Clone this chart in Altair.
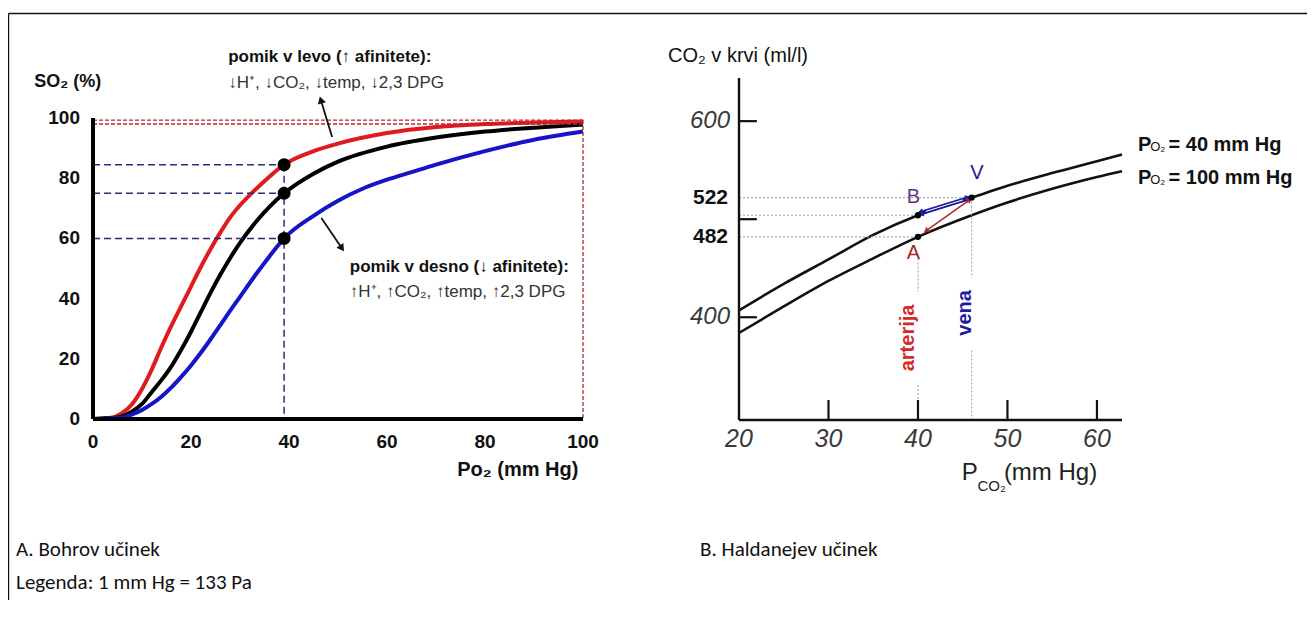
import math
import altair as alt
import pandas as pd

# ---------------- Panel A: Bohr effect ----------------
red_po2 = [0, 4, 6, 8, 10, 12, 14, 16, 18, 20, 22, 24, 26, 28, 30, 33, 36, 39, 45, 50, 60, 70, 80, 90, 100]
red_so2 = [0, 0.5, 2, 5, 10, 16.5, 24, 31, 37.5, 44, 50.5, 56.5, 62, 67, 71, 76, 80.5, 84.5, 89, 91.5, 95, 97, 98, 98.5, 98.8]
black_po2 = [0, 5, 8, 10, 12, 14, 16, 18, 20, 22, 24, 26, 28, 30, 33, 36, 39, 45, 50, 60, 70, 80, 90, 100]
black_so2 = [0, 0.5, 2.5, 5, 9, 13, 17.5, 23, 29, 35.5, 42, 48, 53.5, 58.5, 65, 70.5, 75, 81.5, 85.5, 90.5, 93.5, 95.5, 96.8, 97.8]
blue_po2 = [0, 6, 8, 10, 12, 14, 16, 18, 20, 22, 24, 26, 28, 30, 33, 36, 39, 45, 50, 55, 60, 65, 70, 80, 90, 100]
blue_so2 = [0, 0.5, 1.5, 3, 5, 7.5, 10.5, 14, 17.8, 22, 26.5, 31.2, 36, 40.6, 47.5, 54, 60, 67.5, 72.5, 76.5, 79.5, 82, 84.5, 89, 92.8, 95.5]
marker_po2 = [39, 39, 39]
marker_so2 = [84.5, 75, 60]
saturation_ref = [99.3, 98.0]
left_ticks = [0, 20, 40, 60, 80, 100]
left_up_arrow = [(48.8, 93.7), (46.5, 106)]
left_down_arrow = [(46.6, 66.8), (50.8, 56.7)]

# ---------------- Panel B: Haldane effect ----------------
pco2 = [20, 25, 30, 35, 40, 46, 50, 55, 60, 62.8]
co2_po2_40 = [407, 434, 459, 484, 504, 522, 534, 547, 559, 566]
co2_po2_100 = [384, 411, 437, 460, 482, 504, 517, 531, 543, 549]
pt_names = ["A", "B", "V"]
pt_pco2 = [40, 40, 46]
pt_co2 = [482, 504, 522]
right_x_ticks = [20, 30, 40, 50, 60]
right_y_ticks = [400, 500, 600]
right_y_labels = [400, 600]
right_bold_labels = [482, 522]

W, H = 1299, 592
LX = dict(domain=[0, 100], range=[85, 575])
LY = dict(domain=[0, 100], range=[411, 110])
RX = dict(domain=[20, 62.8], range=[731, 1114])
RY = dict(domain=[295.2, 644], range=[412, 70])
PAN = {"L": (LX, LY), "R": (RX, RY)}


def pix(s, v):
    d0, d1 = s["domain"]
    r0, r1 = s["range"]
    return r0 + (v - d0) * (r1 - r0) / (d1 - d0)


def heading(panel, p0, p1):
    sx, sy = PAN[panel]
    dx = pix(sx, p1[0]) - pix(sx, p0[0])
    dy = pix(sy, p1[1]) - pix(sy, p0[1])
    return math.degrees(math.atan2(dx, -dy)) % 360


def sc(s):
    return alt.Scale(domain=s["domain"], range=s["range"], zero=False, nice=False)


def base(df, panel, x="x", y="y", x2=None, y2=None):
    sx, sy = PAN[panel]
    e = dict(x=alt.X(f"{x}:Q", scale=sc(sx), axis=None),
             y=alt.Y(f"{y}:Q", scale=sc(sy), axis=None))
    if x2:
        e["x2"] = alt.X2(f"{x2}:Q")
    if y2:
        e["y2"] = alt.Y2(f"{y2}:Q")
    return alt.Chart(pd.DataFrame(df)), e


def text(panel, rows, **mk):
    df = pd.DataFrame(rows, columns=["x", "y", "t"])
    c, e = base(df, panel)
    return c.mark_text(**mk).encode(**e, text="t:N")


def seg(panel, rows, **mk):
    df = pd.DataFrame(rows, columns=["x", "y", "x2", "y2"])
    c, e = base(df, panel, x2="x2", y2="y2")
    return c.mark_rule(**mk).encode(**e)


def heads(panel, rows, **mk):
    df = pd.DataFrame(rows, columns=["x", "y", "a"])
    c, e = base(df, panel)
    return c.mark_point(shape="triangle-up", filled=True, opacity=1, **mk).encode(
        **e, angle=alt.Angle("a:Q", scale=None))


SANS = "Liberation Sans"
NARROW = "Liberation Sans Narrow, Arial Narrow, Liberation Sans"
layers = []

# ---- Panel A ----
curves = pd.DataFrame(
    [("red", a, b) for a, b in zip(red_po2, red_so2)]
    + [("black", a, b) for a, b in zip(black_po2, black_so2)]
    + [("blue", a, b) for a, b in zip(blue_po2, blue_so2)],
    columns=["s", "x", "y"])
c, e = base(curves, "L")
layers.append(c.mark_line(strokeWidth=4, interpolate="monotone").encode(
    **e, color=alt.Color("s:N", scale=alt.Scale(domain=["red", "black", "blue"],
                                                range=["#e01a1f", "#000000", "#1515c8"]), legend=None)))

layers.append(seg("L", [(0, v, 100, v) for v in saturation_ref],
                  color="#b5292e", strokeWidth=1.3, strokeDash=[4, 2]))
layers.append(seg("L", [(100, saturation_ref[0], 100, 0)],
                  color="#b5292e", strokeWidth=1.3, strokeDash=[4, 2]))
layers.append(seg("L", [(0, v, x, v) for x, v in zip(marker_po2, marker_so2)]
                  + [(marker_po2[0], max(marker_so2), marker_po2[0], 0)],
                  color="#2b2b7c", strokeWidth=1.5, strokeDash=[7, 4]))

c, e = base({"x": marker_po2, "y": marker_so2}, "L")
layers.append(c.mark_point(filled=True, color="black", opacity=1, size=170).encode(**e))

layers.append(seg("L", [(0, 0, 100, 0), (0, 0, 0, 100)], color="black", strokeWidth=4))

layers.append(text("L", [(0, v, str(v)) for v in left_ticks], align="right", baseline="middle",
                   dx=-13, font=SANS, fontWeight="bold", fontSize=19, color="#111"))
layers.append(text("L", [(v, 0, str(v)) for v in left_ticks], align="center", baseline="middle",
                   dy=23, font=SANS, fontWeight="bold", fontSize=19, color="#111"))
layers.append(text("L", [(-12, 112, "SO₂ (%)")], align="left", baseline="middle",
                   font=NARROW, fontWeight="bold", fontSize=18, color="#111"))
layers.append(text("L", [(86.7, -16.9, "Po₂ (mm Hg)")], align="center", baseline="middle",
                   font=NARROW, fontWeight="bold", fontSize=20, color="#111"))
layers.append(text("L", [(27.6, 120.3, "pomik v levo (↑ afinitete):"),
                         (52.4, 50.6, "pomik v desno (↓ afinitete):")],
                   align="left", baseline="middle", font=NARROW, fontWeight="bold",
                   fontSize=17, color="#111"))
layers.append(text("L", [(27.6, 111.6, "↓H⁺, ↓CO₂, ↓temp, ↓2,3 DPG"),
                         (52.4, 42.3, "↑H⁺, ↑CO₂, ↑temp, ↑2,3 DPG")],
                   align="left", baseline="middle", font=NARROW, fontSize=17, color="#333"))
for p0, p1 in (left_up_arrow, left_down_arrow):
    layers.append(seg("L", [(p0[0], p0[1], p1[0], p1[1])], color="#111", strokeWidth=1.8))
    layers.append(heads("L", [(p1[0], p1[1], heading("L", p0, p1))], color="#111", size=70))

# ---- Panel B ----
hc = pd.DataFrame([("40", a, b) for a, b in zip(pco2, co2_po2_40)]
                  + [("100", a, b) for a, b in zip(pco2, co2_po2_100)], columns=["s", "x", "y"])
c, e = base(hc, "R")
layers.append(c.mark_line(strokeWidth=2.6, color="#111", interpolate="monotone").encode(
    **e, detail="s:N"))

A, B, V = list(zip(pt_pco2, pt_co2))
guides = [(20, V[1], V[0], V[1]), (20, B[1], B[0], B[1]), (20, A[1], A[0], A[1]),
          (A[0], 460, A[0], 426), (A[0], 331, A[0], 295.2),
          (V[0], V[1], V[0], 440), (V[0], 366, V[0], 295.2)]
layers.append(seg("R", guides, color="#a8a8a8", strokeWidth=1.1, strokeDash=[2, 2]))

layers.append(seg("R", [(20, 295.2, 62.8, 295.2), (20, 295.2, 20, 644)], color="#111", strokeWidth=2.4))
layers.append(seg("R", [(v, 295.2, v, 315.6) for v in right_x_ticks[1:]], color="#111", strokeWidth=2.2))
layers.append(seg("R", [(20, v, 22.0, v) for v in right_y_ticks], color="#111", strokeWidth=2.2))

layers.append(text("R", [(v, 295.2, str(v)) for v in right_x_ticks], align="center", baseline="middle",
                   dy=19, font=SANS, fontStyle="italic", fontSize=25, color="#3a3a3a"))
layers.append(text("R", [(20, v, str(v)) for v in right_y_labels], align="right", baseline="middle",
                   dx=-9, font=SANS, fontStyle="italic", fontSize=24, color="#3a3a3a"))
layers.append(text("R", [(20, v, str(v)) for v in right_bold_labels], align="right", baseline="middle",
                   dx=-11, font=SANS, fontWeight="bold", fontSize=21, color="#111"))
layers.append(text("R", [(12.07, 666, "CO₂ v krvi (ml/l)")], align="left", baseline="middle",
                   font=SANS, fontSize=20, color="#111"))
layers.append(text("R", [(44.9, 241.2, "P")], align="left", baseline="middle",
                   font=SANS, fontSize=24, color="#222"))
layers.append(text("R", [(46.65, 228, "CO₂")], align="left", baseline="middle",
                   font=SANS, fontSize=15, color="#222"))
layers.append(text("R", [(49.6, 241.2, "(mm Hg)")], align="left", baseline="middle",
                   font=SANS, fontSize=24, color="#222"))

# arrows between points
blue_arrow = [(40.2, 506), (45.7, 521.5)]
red_arrow = [(40.9, 488), (45.8, 520)]
layers.append(seg("R", [(blue_arrow[0][0], blue_arrow[0][1], blue_arrow[1][0], blue_arrow[1][1])],
                  color="#1c1c9c", strokeWidth=4.4))
layers.append(seg("R", [(40.9, 508, 45.0, 519.6)], color="white", strokeWidth=1.0))
layers.append(heads("R", [(blue_arrow[1][0], blue_arrow[1][1], heading("R", *blue_arrow)),
                          (blue_arrow[0][0], blue_arrow[0][1], heading("R", blue_arrow[1], blue_arrow[0]))],
                    color="#1c1c9c", size=70))
layers.append(seg("R", [(red_arrow[0][0], red_arrow[0][1], red_arrow[1][0], red_arrow[1][1])],
                  color="#b3262a", strokeWidth=1.5))
layers.append(heads("R", [(red_arrow[1][0], red_arrow[1][1], heading("R", *red_arrow)),
                          (red_arrow[0][0], red_arrow[0][1], heading("R", red_arrow[1], red_arrow[0]))],
                    color="#b3262a", size=40))

c, e = base({"x": pt_pco2, "y": pt_co2}, "R")
layers.append(c.mark_point(filled=True, color="black", opacity=1, size=40).encode(**e))

layers.append(text("R", [(39.5, 465.2, "A")], font=SANS, fontSize=20, color="#a3262a", baseline="middle"))
layers.append(text("R", [(39.5, 523, "B")], font=SANS, fontSize=20, color="#6b2f86", baseline="middle"))
layers.append(text("R", [(46.6, 546.8, "V")], font=SANS, fontSize=20, color="#1c1c8c", baseline="middle"))
layers.append(text("R", [(38.9, 378.9, "arterija")], font=SANS, fontWeight="bold", fontSize=20,
                   color="#d42a2a", angle=270, baseline="middle", align="center"))
layers.append(text("R", [(45.25, 404.4, "vena")], font=SANS, fontWeight="bold", fontSize=20,
                   color="#1c1ca0", angle=270, baseline="middle", align="center"))

legend_y = [(576, "= 40 mm  Hg"), (542, "= 100 mm  Hg")]
layers.append(text("R", [(64.6, y, "P") for y, _ in legend_y], align="left", baseline="middle",
                   font=SANS, fontWeight="bold", fontSize=20, color="#111"))
layers.append(text("R", [(65.95, y - 2, "O₂") for y, _ in legend_y], align="left", baseline="middle",
                   font=SANS, fontSize=13, color="#111"))
layers.append(text("R", [(68.0, y, t) for y, t in legend_y], align="left", baseline="middle",
                   font=SANS, fontWeight="bold", fontSize=20, color="#111"))

# ---- captions ----
layers.append(text("L", [(-15.7, -43.5, "A. Bohrov učinek"), (123.9, -43.5, "B. Haldanejev učinek"),
                         (-15.7, -54.5, "Legenda: 1 mm Hg = 133 Pa")],
                   align="left", baseline="middle", font="Carlito, Lato", fontSize=21, color="#111"))

# ---- frame ----
one = alt.Chart(pd.DataFrame({"a": [0]}))
layers.append(one.mark_rule(color="#111", strokeWidth=1.4).encode(
    x=alt.value(0.5), y=alt.value(5.5), y2=alt.value(H)))
layers.append(one.mark_rule(color="#111", strokeWidth=1.4).encode(
    x=alt.value(0.5), x2=alt.value(W), y=alt.value(5.5)))

chart = alt.layer(*layers).resolve_scale(
    x="independent", y="independent", color="independent"
).properties(
    width=W, height=H, padding=0, autosize=alt.AutoSizeParams(type="none"),
    background="white"
).configure_view(stroke=None)

chart.save("out.html", embed_options={"renderer": "svg", "actions": False})
